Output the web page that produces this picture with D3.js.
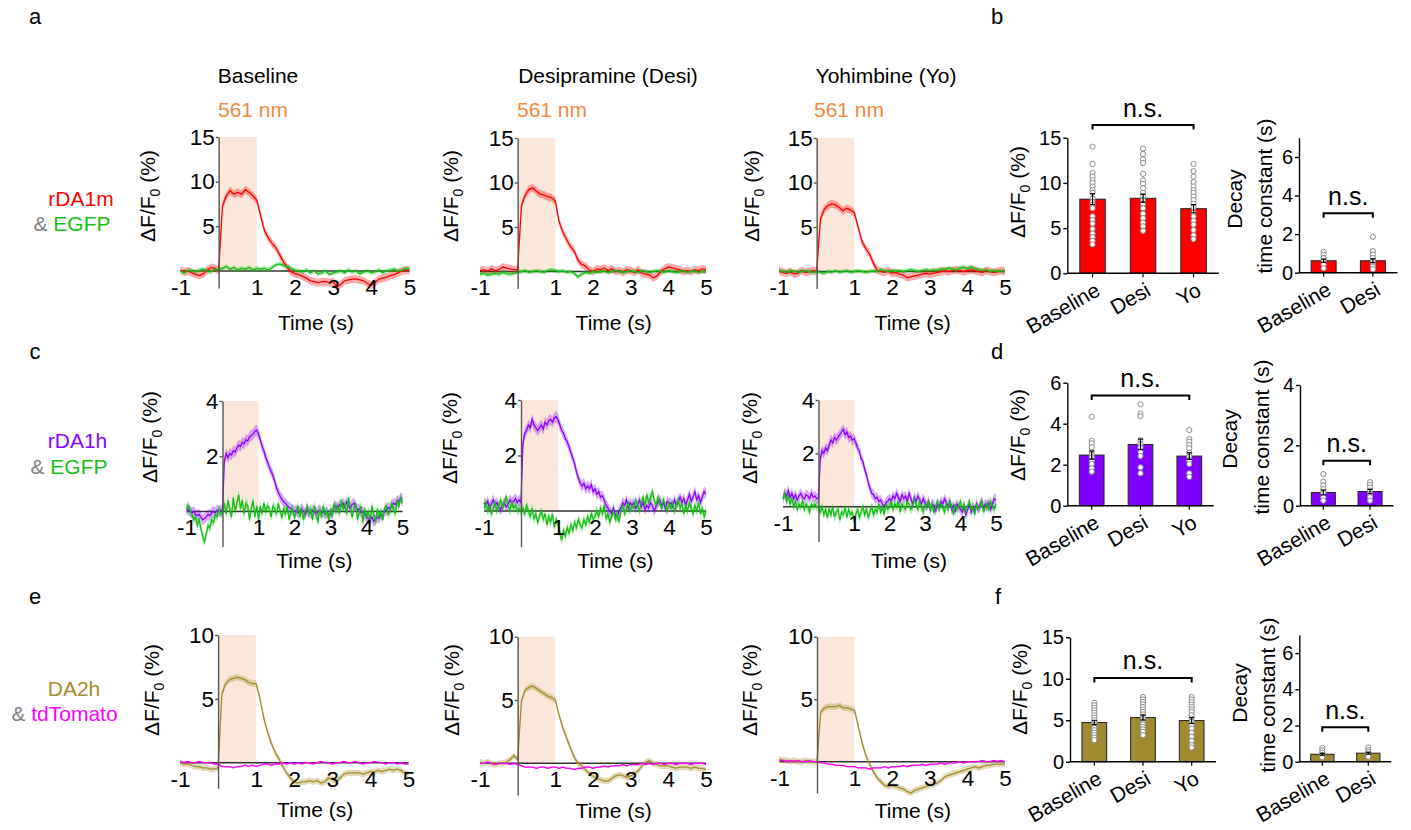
<!DOCTYPE html>
<html>
<head>
<meta charset="utf-8">
<script src="https://cdn.jsdelivr.net/npm/d3@7"></script>
<style>
  body { margin: 0; background: #fff; }
  svg text { font-family: Arial, "Liberation Sans", Helvetica, sans-serif; fill: #000; }
</style>
</head>
<body>
<svg id="fig" width="1411" height="830"></svg>
<script>
// ---------- data ----------
// sampling grids (s)
const T10 = d3.range(-10, 51).map(i => i / 10);   // 0.1 s
const T20 = d3.range(-20, 101).map(i => i / 20);  // 0.05 s
const LIGHT_ON = [0, 1];                           // 561 nm pulse
const X_TICKS = [-1, 1, 2, 3, 4, 5];

// row a: rDA1m & EGFP, mean dF/F0 (%)
const rDA1m_base = [0.1, -0.1, 0.0, -0.2, -0.4, -0.5, -0.3, 0.1, 0.4, 0.3,
  0.0,
  7.3, 8.4, 9.0, 8.6, 8.8, 8.6, 9.1, 8.8, 8.4, 7.9,
  6.2, 4.5, 3.7, 3.1, 2.6, 1.8, 1.0, 0.4, -0.1, -0.3,
  -0.4, -0.6, -0.8, -1.1, -1.2, -1.3, -1.2, -1.2, -1.3, -1.2,
  -1.8, -1.5, -1.1, -1.0, -0.9, -0.9, -1.0, -1.1, -1.4, -1.6,
  -1.3, -0.9, -0.8, -0.7, -0.5, -0.4, -0.2, 0.0, 0.1, 0.1];
const egfpA_base = [0.0, -0.2, 0.1, 0.0, -0.1, 0.1, 0.2, 0.0, -0.1, 0.2,
  0.1,
  0.3, 0.5, 0.2, 0.4, 0.1, 0.3, 0.2, 0.4, 0.1, 0.3,
  0.2, 0.3, 0.1, 0.4, 0.7, 0.8, 0.6, 0.5, 0.3, 0.1,
  0.0, -0.1, 0.1, -0.2, 0.0, -0.3, -0.2, 0.0, -0.4, -0.2,
  -0.1, 0.0, -0.2, 0.1, -0.1, 0.0, -0.3, -0.1, 0.0, -0.2,
  -0.1, 0.1, -0.2, 0.0, 0.1, 0.2, 0.0, 0.1, 0.3, 0.2];
const rDA1m_desi = [0.1, 0.2, 0.0, 0.3, 0.1, 0.2, 0.5, 0.4, 0.3, 0.2,
  0.2,
  7.4, 8.6, 9.2, 9.4, 9.0, 8.7, 8.6, 8.4, 8.3, 7.9,
  5.6, 4.4, 3.6, 2.8, 2.3, 1.3, 0.8, 0.6, 0.2, 0.0,
  0.3, 0.2, 0.4, 0.1, 0.3, 0.0, 0.1, -0.1, 0.2, 0.1,
  -0.1, 0.2, -0.2, -0.3, -0.4, -0.7, -0.5, 0.0, 0.3, 0.5,
  0.4, 0.3, 0.2, 0.0, 0.1, 0.0, 0.2, 0.1, 0.3, 0.2];
const egfpA_desi = [-0.3, -0.2, -0.4, -0.3, -0.2, -0.3, -0.1, -0.2, -0.3, -0.2,
  -0.1,
  0.0, 0.1, -0.1, 0.0, 0.1, 0.0, -0.1, 0.1, 0.2, 0.1,
  0.0, 0.1, -0.1, 0.0, -0.2, -0.6, -0.3, -0.1, -0.2, 0.0,
  -0.1, 0.0, 0.1, -0.1, 0.0, 0.1, 0.0, -0.1, 0.0, 0.1,
  0.0, -0.1, 0.1, 0.0, -0.1, 0.0, 0.1, 0.0, -0.1, 0.1,
  0.0, -0.1, 0.0, 0.1, -0.1, 0.0, 0.1, -0.1, 0.0, 0.0];
const rDA1m_yo = [0.1, -0.1, -0.2, 0.0, -0.3, -0.2, 0.1, -0.1, 0.0, 0.1,
  0.0,
  5.9, 7.0, 7.4, 7.6, 7.5, 7.2, 6.8, 7.1, 6.9, 6.6,
  5.0, 3.4, 2.6, 2.0, 1.0, 0.2, 0.0, -0.1, 0.1, -0.2,
  -0.1, -0.3, -0.4, -0.7, -0.6, -0.5, -0.4, -0.3, -0.2, -0.3,
  -0.2, -0.1, 0.0, 0.1, 0.0, 0.1, 0.2, 0.1, 0.0, 0.1,
  0.2, 0.1, 0.0, -0.1, 0.1, 0.0, -0.1, 0.0, 0.1, 0.0];
const egfpA_yo = [0.1, 0.0, -0.1, 0.1, 0.0, -0.1, 0.0, 0.1, 0.0, -0.1,
  0.0,
  -0.1, -0.2, 0.0, -0.1, 0.1, -0.1, 0.0, 0.1, -0.1, 0.0,
  0.1, 0.0, -0.1, 0.0, 0.1, 0.0, 0.2, 0.1, 0.0, 0.1,
  0.0, 0.1, 0.0, 0.1, 0.2, 0.1, 0.0, 0.1, 0.2, 0.1,
  0.2, 0.1, 0.3, 0.2, 0.4, 0.3, 0.2, 0.4, 0.5, 0.3,
  0.5, 0.3, 0.2, 0.1, 0.2, 0.0, 0.1, 0.0, 0.1, 0.0];

// row c: rDA1h & EGFP, 0.05 s sampling
const rDA1h_base = [0.1, 0.05, 0.0, -0.05, 0.0, -0.1, -0.15, -0.1, -0.2, -0.3, -0.25, -0.2, -0.1, -0.15, -0.05, 0.0, -0.05, 0.05, 0.0, 0.05,
  0.0,
  1.8, 2.1, 1.95, 2.1, 2.05, 2.2, 2.15, 2.3, 2.4, 2.35, 2.5, 2.45, 2.6, 2.55, 2.7, 2.75, 2.8, 2.9, 2.95, 2.8,
  2.6, 2.35, 2.2, 1.95, 1.8, 1.6, 1.45, 1.3, 1.1, 0.85, 0.7, 0.55, 0.45, 0.35, 0.3, 0.2, 0.15, 0.1, 0.05, 0.0,
  0.05, -0.05, 0.0, 0.1, 0.0, -0.1, 0.05, 0.0, -0.05, 0.05, 0.0, -0.1, 0.0, 0.05, -0.05, 0.0, -0.1, 0.0, -0.15, -0.1,
  0.0, 0.15, 0.2, 0.1, 0.25, 0.2, 0.3, 0.15, 0.35, 0.2, 0.1, 0.25, 0.3, 0.15, 0.05, 0.1, -0.05, 0.0, -0.1, -0.2,
  -0.25, -0.3, -0.2, -0.35, -0.3, -0.2, -0.25, -0.1, -0.15, 0.0, 0.05, 0.15, 0.1, 0.2, 0.3, 0.25, 0.4, 0.35, 0.5, 0.45];
const egfpC_base = [0.1, 0.2, 0.05, -0.1, -0.3, -0.2, -0.5, -0.3, -0.6, -0.9, -1.1, -0.8, -0.5, -0.6, -0.3, -0.4, -0.1, -0.2, 0.1, -0.1,
  0.0,
  0.3, -0.1, 0.4, 0.1, -0.2, 0.5, 0.0, 0.3, 0.6, 0.1, 0.4, -0.1, 0.3, 0.2, -0.3, 0.1, 0.4, -0.2, 0.2, -0.3,
  0.2, -0.1, 0.3, 0.0, 0.2, 0.1, -0.2, 0.2, 0.1, -0.1, 0.3, 0.0, -0.2, 0.1, -0.1, 0.2, -0.3, 0.0, 0.1, -0.2,
  0.0, 0.2, -0.2, 0.1, -0.3, 0.0, 0.2, -0.1, 0.1, -0.3, 0.2, 0.0, -0.4, 0.1, -0.2, 0.2, -0.1, 0.0, -0.3, 0.1,
  -0.2, 0.3, 0.0, 0.2, -0.1, 0.4, 0.1, 0.3, -0.1, 0.5, 0.2, -0.2, 0.1, 0.3, -0.3, 0.0, 0.2, -0.4, 0.1, -0.2,
  0.0, -0.3, 0.2, -0.1, -0.4, 0.1, -0.2, 0.0, -0.3, 0.1, 0.2, -0.1, 0.0, 0.3, 0.1, -0.1, 0.4, 0.2, 0.5, 0.3];
const rDA1h_desi = [0.3, 0.2, 0.35, 0.1, 0.25, 0.4, 0.2, 0.3, 0.15, 0.05, 0.2, 0.3, 0.15, 0.25, 0.4, 0.3, 0.35, 0.45, 0.3, 0.4,
  0.3,
  2.4, 2.8, 2.9, 3.1, 3.0, 3.3, 3.1, 3.0, 2.9, 3.0, 3.1, 2.95, 3.2, 3.1, 3.25, 3.3, 3.2, 3.35, 3.4, 3.3,
  3.1, 2.9, 2.8, 2.6, 2.5, 2.3, 2.1, 1.9, 1.7, 1.4, 1.2, 1.0, 0.9, 1.0, 0.8, 0.9, 0.8, 0.95, 0.7, 0.8,
  0.6, 0.7, 0.5, 0.55, 0.4, 0.2, 0.1, 0.0, -0.1, 0.1, -0.15, -0.2, 0.0, 0.1, 0.3, 0.2, 0.4, 0.1, 0.3, 0.2,
  0.3, 0.1, 0.2, 0.4, 0.15, 0.3, 0.05, 0.2, 0.1, 0.3, 0.2, 0.0, 0.15, 0.3, 0.4, 0.2, 0.3, 0.1, 0.35, 0.25,
  0.3, 0.15, 0.4, 0.2, 0.35, 0.5, 0.3, 0.45, 0.2, 0.4, 0.6, 0.35, 0.5, 0.7, 0.4, 0.55, 0.3, 0.5, 0.7, 0.6];
const egfpC_desi = [0.1, 0.3, 0.0, 0.2, -0.1, 0.1, 0.3, 0.0, 0.2, 0.4, 0.1, 0.3, 0.5, 0.2, 0.0, 0.3, 0.1, 0.2, 0.0, 0.1,
  0.0,
  0.1, -0.1, 0.2, 0.0, -0.2, 0.1, -0.3, -0.1, -0.4, -0.2, 0.0, -0.3, -0.1, -0.5, -0.2, -0.4, -0.1, -0.6, -0.3, -0.5,
  -0.8, -1.05, -0.7, -0.9, -0.6, -0.8, -0.5, -0.7, -0.4, -0.6, -0.3, -0.5, -0.6, -0.3, -0.5, -0.2, -0.4, -0.1, -0.3, -0.2,
  0.0, -0.2, 0.1, -0.1, 0.2, -0.3, -0.1, -0.4, -0.2, 0.0, -0.3, -0.1, -0.4, 0.0, 0.2, -0.1, 0.1, 0.3, 0.0, 0.2,
  0.1, 0.4, 0.2, 0.0, 0.3, 0.5, 0.2, 0.6, 0.3, 0.5, 0.7, 0.4, 0.2, 0.5, 0.3, 0.1, 0.4, 0.2, 0.0, 0.3,
  0.1, 0.3, 0.0, 0.2, 0.4, 0.1, 0.3, -0.1, 0.2, 0.0, 0.3, 0.1, -0.1, 0.2, 0.0, 0.3, -0.1, 0.1, -0.2, 0.0];
const rDA1h_yo = [0.3, 0.5, 0.4, 0.6, 0.35, 0.5, 0.3, 0.45, 0.25, 0.4, 0.5, 0.35, 0.3, 0.45, 0.4, 0.3, 0.5, 0.35, 0.4, 0.3,
  0.3,
  1.8, 2.1, 2.0, 2.2, 2.1, 2.3, 2.5, 2.4, 2.6, 2.5, 2.6, 2.7, 2.8, 2.9, 2.7, 2.8, 2.6, 2.65, 2.5, 2.55,
  2.4, 2.2, 2.1, 1.8, 1.7, 1.4, 1.2, 0.9, 0.7, 0.5, 0.45, 0.3, 0.35, 0.2, 0.25, 0.1, 0.0, 0.15, 0.2, 0.3,
  0.2, 0.4, 0.3, 0.5, 0.35, 0.2, 0.45, 0.3, 0.4, 0.2, 0.5, 0.3, 0.1, 0.35, 0.2, 0.4, 0.25, 0.1, 0.3, 0.15,
  0.0, 0.2, -0.1, 0.1, 0.05, -0.15, 0.1, 0.0, 0.2, 0.1, 0.3, 0.15, 0.0, 0.2, -0.1, 0.05, -0.2, 0.1, 0.0, -0.1,
  -0.2, 0.0, -0.3, -0.1, 0.1, -0.2, 0.0, -0.15, 0.1, -0.1, 0.05, 0.2, -0.05, 0.1, 0.0, 0.15, -0.1, 0.1, 0.3, 0.25];
const egfpC_yo = [0.3, 0.5, 0.2, 0.4, 0.1, 0.3, 0.0, 0.2, -0.1, 0.1, 0.0, 0.2, -0.1, 0.1, 0.0, -0.2, 0.1, 0.0, 0.1, 0.0,
  0.0,
  -0.2, 0.0, -0.3, -0.1, -0.4, -0.1, -0.3, 0.0, -0.4, -0.2, -0.1, -0.5, -0.2, -0.3, 0.0, -0.4, -0.1, -0.3, -0.2, -0.5,
  -0.3, -0.1, -0.4, -0.2, 0.0, -0.3, -0.1, -0.4, -0.2, 0.0, -0.3, -0.1, -0.2, 0.1, -0.2, 0.0, -0.3, 0.1, -0.1, 0.0,
  0.2, -0.1, 0.1, 0.0, 0.2, -0.2, 0.1, 0.0, -0.1, 0.2, 0.1, -0.1, 0.0, 0.3, 0.1, -0.1, 0.2, 0.0, -0.2, 0.1,
  0.0, 0.2, -0.1, 0.1, -0.2, 0.0, 0.2, -0.1, 0.1, 0.0, -0.2, 0.1, -0.1, 0.2, 0.0, -0.3, 0.1, -0.1, 0.0, 0.2,
  -0.1, 0.1, -0.2, 0.0, 0.2, -0.1, 0.0, -0.3, 0.1, -0.1, 0.0, 0.2, -0.2, 0.0, 0.1, -0.1, 0.2, 0.0, -0.1, 0.1];

// row e: DA2h & tdTomato, 0.1 s sampling
const da2h_base = [0.0, -0.1, -0.1, -0.2, -0.3, -0.3, -0.4, -0.4, -0.5, -0.5,
  -0.4,
  5.4, 6.2, 6.5, 6.6, 6.7, 6.6, 6.5, 6.3, 6.2, 6.2,
  5.0, 3.5, 2.4, 1.5, 0.8, 0.3, -0.3, -0.8, -1.2, -1.5,
  -1.6, -1.5, -1.5, -1.4, -1.5, -1.4, -1.6, -1.5, -1.2, -1.3,
  -1.5, -1.2, -0.9, -0.8, -0.8, -0.8, -0.8, -0.9, -0.8, -0.7,
  -0.7, -0.6, -0.7, -0.6, -0.5, -0.6, -0.5, -0.6, -0.8, -0.9];
const tdt_base = [0.1, 0.0, 0.1, 0.0, 0.0, 0.1, 0.0, 0.0, 0.0, -0.1,
  -0.1,
  -0.3, -0.3, -0.3, -0.4, -0.3, -0.3, -0.2, -0.3, -0.2, -0.3,
  -0.2, -0.1, -0.1, -0.2, -0.1, -0.1, 0.0, -0.1, 0.0, -0.1,
  0.0, -0.1, 0.0, 0.0, -0.1, 0.0, 0.1, 0.0, 0.0, -0.1,
  0.0, 0.0, 0.1, 0.0, 0.0, 0.1, 0.0, -0.1, 0.0, 0.0,
  0.1, 0.0, 0.0, -0.1, 0.0, 0.0, -0.1, 0.0, -0.1, -0.1];
const da2h_desi = [0.1, 0.0, 0.1, 0.0, -0.1, 0.0, 0.0, 0.1, 0.3, 0.6,
  0.3,
  4.9, 5.8, 6.0, 6.1, 5.9, 5.7, 5.5, 5.3, 5.2, 5.0,
  3.8, 2.8, 2.0, 1.2, 0.5, 0.0, -0.2, -0.5, -0.8, -1.0,
  -1.2, -1.3, -1.4, -1.4, -1.2, -1.0, -0.9, -1.0, -1.1, -1.0,
  -0.8, -0.6, -0.2, 0.1, 0.2, 0.0, -0.1, -0.2, -0.2, -0.2,
  -0.3, -0.4, -0.3, -0.3, -0.3, -0.4, -0.3, -0.4, -0.4, -0.5];
const tdt_desi = [0.0, 0.0, 0.1, 0.0, -0.1, 0.0, 0.0, 0.0, -0.1, 0.0,
  -0.1,
  -0.2, -0.3, -0.3, -0.3, -0.4, -0.3, -0.3, -0.4, -0.3, -0.3,
  -0.4, -0.3, -0.4, -0.4, -0.5, -0.4, -0.4, -0.3, -0.3, -0.4,
  -0.3, -0.3, -0.2, -0.3, -0.2, -0.2, -0.2, -0.1, -0.2, -0.1,
  -0.1, -0.1, 0.0, -0.1, 0.0, -0.1, 0.0, 0.0, -0.1, 0.0,
  0.0, -0.1, 0.0, 0.0, 0.0, -0.1, 0.0, 0.0, 0.0, -0.1];
const da2h_yo = [0.2, 0.1, 0.1, 0.0, 0.1, 0.0, 0.0, 0.1, 0.0, 0.0,
  0.0,
  4.0, 4.3, 4.4, 4.4, 4.4, 4.5, 4.3, 4.3, 4.2, 4.1,
  2.8, 1.5, 0.5, -0.2, -0.8, -1.3, -1.6, -1.9, -2.0, -1.9,
  -2.0, -2.1, -2.2, -2.4, -2.5, -2.3, -2.2, -2.1, -2.0, -1.9,
  -1.8, -1.7, -1.5, -1.2, -1.1, -1.0, -0.9, -0.8, -0.7, -0.6,
  -0.5, -0.4, -0.5, -0.4, -0.3, -0.3, -0.2, -0.2, -0.2, -0.2];
const tdt_yo = [0.1, 0.1, 0.0, 0.1, 0.0, 0.1, 0.0, 0.0, 0.1, 0.0,
  0.0,
  -0.1, -0.1, -0.2, -0.2, -0.3, -0.3, -0.3, -0.4, -0.4, -0.4,
  -0.5, -0.5, -0.5, -0.6, -0.5, -0.5, -0.5, -0.4, -0.5, -0.4,
  -0.4, -0.4, -0.3, -0.4, -0.3, -0.3, -0.3, -0.2, -0.3, -0.2,
  -0.2, -0.2, -0.1, -0.2, -0.1, -0.1, -0.1, 0.0, -0.1, 0.0,
  0.0, 0.0, 0.0, 0.1, 0.0, 0.0, 0.1, 0.0, 0.1, 0.0];

// SEM half-widths of the shaded bands
const SEM_RDA1M = 0.45, SEM_EGFP_A = 0.25;
const SEM_RDA1H = 0.2, SEM_EGFP_C = 0.18;
const SEM_DA2H = 0.25, SEM_TDT = 0.06;

// bar charts
const peakCats = ['Baseline', 'Desi', 'Yo'];
const decayCats = ['Baseline', 'Desi'];

const bPeakMean = [8.2, 8.3, 7.15];
const bPeakSem = [0.6, 0.45, 0.45];
const bPeakDots = [
  [14.0, 12.1, 11.1, 10.7, 10.3, 10.0, 9.6, 9.2, 8.9, 8.3, 7.9, 7.6, 7.2, 6.3, 5.9, 5.5, 4.9, 4.4, 4.0, 3.6, 3.2],
  [13.8, 13.2, 12.6, 12.2, 11.0, 10.3, 9.9, 9.4, 8.9, 8.5, 8.1, 7.7, 7.2, 6.6, 6.1, 5.6, 5.2, 4.7],
  [12.1, 11.3, 10.7, 10.1, 9.6, 9.2, 8.9, 8.5, 8.1, 7.7, 7.3, 6.7, 6.3, 5.8, 5.4, 4.8, 4.2, 3.8]];
const bDecayMean = [0.62, 0.62];
const bDecaySem = [0.08, 0.1];
const bDecayDots = [
  [1.08, 0.94, 0.76, 0.58, 0.41, 0.23],
  [1.86, 1.12, 0.94, 0.76, 0.58, 0.44, 0.32, 0.18]];

const dPeakMean = [2.47, 2.99, 2.42];
const dPeakSem = [0.2, 0.26, 0.16];
const dPeakDots = [
  [4.34, 3.17, 3.04, 2.85, 2.63, 2.47, 2.36, 2.2, 2.03, 1.82, 1.66],
  [4.94, 4.5, 4.37, 3.2, 3.0, 2.85, 2.63, 2.42, 1.87, 1.58],
  [3.69, 3.25, 3.12, 2.96, 2.8, 2.59, 2.39, 2.2, 2.03, 1.58, 1.41]];
const dDecayMean = [0.44, 0.47];
const dDecaySem = [0.08, 0.07];
const dDecayDots = [
  [1.05, 0.8, 0.67, 0.55, 0.41, 0.28, 0.17],
  [0.78, 0.69, 0.6, 0.5, 0.39, 0.28, 0.17]];

const fPeakMean = [4.72, 5.32, 4.96];
const fPeakSem = [0.25, 0.3, 0.35];
const fPeakDots = [
  [7.1, 6.8, 6.5, 6.2, 5.9, 5.6, 5.3, 5.0, 4.7, 4.4, 4.1, 3.8, 3.5, 3.2, 2.9, 2.6],
  [7.8, 7.5, 7.2, 6.9, 6.6, 6.3, 6.0, 5.7, 5.4, 5.1, 4.8, 4.5, 4.2, 3.9, 3.6, 3.2],
  [7.8, 7.5, 7.2, 6.9, 6.6, 6.3, 6.0, 5.6, 5.2, 4.8, 4.4, 4.0, 3.5, 3.0, 2.5, 2.0, 1.7]];
const fDecayMean = [0.41, 0.47];
const fDecaySem = [0.05, 0.05];
const fDecayDots = [
  [0.75, 0.62, 0.5, 0.37, 0.24],
  [0.79, 0.65, 0.54, 0.41, 0.28]];

// ---------- styles ----------
const C_RED = '#ff0000', C_GREEN = '#14bf14', C_PURPLE = '#8a00ff';
const C_OLIVE = '#a38c2e', C_MAGENTA = '#ff00ff', C_ORANGE = '#ef8a3e';
const C_SHADE = '#fbe7da', C_AMP = '#808080';
const BAR_RED = '#ff0000', BAR_PURPLE = '#7f00ff', BAR_OLIVE = '#a08a30';
const FS = 21;          // labels
const FS_TRACE_TICK = 22.5;
const FS_BAR_TICK = 20;
const fmt = d => String(d);

const svg = d3.select('#fig');

function dfLabel(g, x, y) {
  const t = g.append('text')
    .attr('transform', `translate(${x},${y}) rotate(-90)`)
    .attr('text-anchor', 'middle')
    .style('font-size', FS + 'px');
  t.append('tspan').text('ΔF/F');
  t.append('tspan').attr('dy', 5).style('font-size', '14px').text('0');
  t.append('tspan').attr('dy', -5).text(' (%)');
}

// ---------- trace panels ----------
function drawTrace(p) {
  const g = svg.append('g');
  const x = d3.scaleLinear().domain([-1, 5]).range([p.x0, p.x1]);
  const y = d3.scaleLinear().domain([0, p.yMax]).range([p.yZero, p.yTop]);

  g.append('rect')
    .attr('x', x(LIGHT_ON[0]))
    .attr('y', y(p.yMax))
    .attr('width', x(LIGHT_ON[1]) - x(LIGHT_ON[0]))
    .attr('height', y(0) - y(p.yMax))
    .attr('fill', C_SHADE);

  g.append('line')
    .attr('x1', x(-1)).attr('x2', x(5))
    .attr('y1', y(0)).attr('y2', y(0))
    .attr('stroke', '#333').attr('stroke-width', 1.4);

  // bands first, then lines
  p.series.forEach(s => {
    const pts = s.t.map((t, i) => [t, s.v[i]]);
    g.append('path')
      .datum(pts)
      .attr('fill', s.color)
      .attr('fill-opacity', 0.33)
      .attr('d', d3.area().x(d => x(d[0])).y0(d => y(d[1] - s.sem)).y1(d => y(d[1] + s.sem)));
  });
  p.series.forEach(s => {
    const pts = s.t.map((t, i) => [t, s.v[i]]);
    g.append('path')
      .datum(pts)
      .attr('fill', 'none')
      .attr('stroke', s.color)
      .attr('stroke-width', 1.3)
      .attr('d', d3.line().x(d => x(d[0])).y(d => y(d[1])));
  });

  const yAx = d3.scaleLinear().domain([p.yMin, p.yMax]).range([y(p.yMin), y(p.yMax)]);
  const ya = g.append('g')
    .attr('transform', `translate(${x(0)},0)`)
    .call(d3.axisLeft(yAx).tickValues(p.yTicks).tickFormat(fmt).tickSize(3).tickSizeOuter(0).tickPadding(1));
  ya.selectAll('path, line').attr('stroke', '#555').attr('stroke-width', 1.4);
  ya.selectAll('text').style('font-size', FS_TRACE_TICK + 'px').attr('fill', '#000');

  const xa = g.append('g')
    .attr('transform', `translate(0,${y(0)})`)
    .call(d3.axisBottom(x).tickValues(X_TICKS).tickSize(0).tickPadding(8).tickFormat(fmt));
  xa.select('.domain').remove();
  xa.selectAll('text').style('font-size', FS_TRACE_TICK + 'px').attr('fill', '#000');

  dfLabel(g, x(0) + p.lx, p.ly);

  g.append('text')
    .attr('x', x(2.55)).attr('y', p.timeY)
    .attr('text-anchor', 'middle')
    .style('font-size', FS + 'px')
    .text('Time (s)');
}

const rowA = (a, b) => [
  { t: T10, v: a, color: C_RED, sem: SEM_RDA1M },
  { t: T10, v: b, color: C_GREEN, sem: SEM_EGFP_A }];
const rowC = (a, b) => [
  { t: T20, v: a, color: C_PURPLE, sem: SEM_RDA1H },
  { t: T20, v: b, color: C_GREEN, sem: SEM_EGFP_C }];
const rowE = (a, b) => [
  { t: T10, v: a, color: C_OLIVE, sem: SEM_DA2H },
  { t: T10, v: b, color: C_MAGENTA, sem: SEM_TDT }];

const tracePanels = [
  { x0: 180.5, x1: 409.5, yTop: 137, yZero: 271, yMax: 15, yMin: -1.9, yTicks: [5, 10, 15], lx: -64, ly: 196, timeY: 329.5, series: rowA(rDA1m_base, egfpA_base) },
  { x0: 480, x1: 706, yTop: 138, yZero: 271.5, yMax: 15, yMin: -1.9, yTicks: [5, 10, 15], lx: -60, ly: 196, timeY: 329.5, series: rowA(rDA1m_desi, egfpA_desi) },
  { x0: 779, x1: 1005, yTop: 138, yZero: 271.5, yMax: 15, yMin: -1.9, yTicks: [5, 10, 15], lx: -58, ly: 196, timeY: 329.5, series: rowA(rDA1m_yo, egfpA_yo) },

  { x0: 186.5, x1: 402.5, yTop: 401, yZero: 511.5, yMax: 4, yMin: -1.27, yTicks: [2, 4], lx: -66, ly: 437, timeY: 568, series: rowC(rDA1h_base, egfpC_base) },
  { x0: 484, x1: 706, yTop: 400, yZero: 511, yMax: 4, yMin: -1.29, yTicks: [2, 4], lx: -64, ly: 438, timeY: 568, series: rowC(rDA1h_desi, egfpC_desi) },
  { x0: 783, x1: 996, yTop: 400, yZero: 506.7, yMax: 4, yMin: -1.3, yTicks: [2, 4], lx: -62, ly: 438, timeY: 568, series: rowC(rDA1h_yo, egfpC_yo) },

  { x0: 180, x1: 408.5, yTop: 635, yZero: 762.7, yMax: 10, yMin: -2, yTicks: [5, 10], lx: -59, ly: 690, timeY: 816.5, series: rowE(da2h_base, tdt_base) },
  { x0: 480, x1: 706, yTop: 636.7, yZero: 763.3, yMax: 10, yMin: -2.5, yTicks: [5, 10], lx: -59, ly: 690, timeY: 818, series: rowE(da2h_desi, tdt_desi) },
  { x0: 779.4, x1: 1005, yTop: 636.7, yZero: 761.7, yMax: 10, yMin: -2.5, yTicks: [5, 10], lx: -60, ly: 690, timeY: 818, series: rowE(da2h_yo, tdt_yo) }
];
tracePanels.forEach(drawTrace);

// ---------- bar panels ----------
function drawBars(p) {
  const g = svg.append('g');
  const x = d3.scalePoint().domain(p.cats).range([p.axisX, p.axisEnd]).padding(0.5);
  const y = d3.scaleLinear().domain([0, p.yMax]).range([p.yZero, p.yTop]);
  const bw = p.barW;

  g.selectAll('rect.bar').data(p.cats).join('rect')
    .attr('class', 'bar')
    .attr('x', c => x(c) - bw / 2)
    .attr('y', (c, i) => y(p.means[i]))
    .attr('width', bw)
    .attr('height', (c, i) => y(0) - y(p.means[i]))
    .attr('fill', p.color)
    .attr('stroke', '#222')
    .attr('stroke-width', 1);

  p.cats.forEach((c, i) => {
    g.selectAll(null).data(p.dots[i]).join('circle')
      .attr('cx', x(c))
      .attr('cy', d => y(d))
      .attr('r', 2.6)
      .attr('fill', '#fff')
      .attr('stroke', '#8c8c8c')
      .attr('stroke-width', 1);
    const lo = y(p.means[i] - p.sems[i]), hi = y(p.means[i] + p.sems[i]);
    g.append('line').attr('x1', x(c)).attr('x2', x(c)).attr('y1', lo).attr('y2', hi)
      .attr('stroke', '#000').attr('stroke-width', 1.2);
    [lo, hi].forEach(yy => g.append('line')
      .attr('x1', x(c) - 2.5).attr('x2', x(c) + 2.5).attr('y1', yy).attr('y2', yy)
      .attr('stroke', '#000').attr('stroke-width', 1.2));
  });

  // x axis with short ticks
  g.append('line')
    .attr('x1', p.axisX).attr('x2', p.axisEnd)
    .attr('y1', y(0)).attr('y2', y(0))
    .attr('stroke', '#000').attr('stroke-width', 1.4);
  p.cats.forEach(c => g.append('line')
    .attr('x1', x(c)).attr('x2', x(c)).attr('y1', y(0)).attr('y2', y(0) + 4)
    .attr('stroke', '#000').attr('stroke-width', 1.2));
  g.selectAll('text.cat').data(p.cats).join('text')
    .attr('class', 'cat')
    .attr('transform', c => `translate(${x(c) + 9},${y(0) + 21}) rotate(-30)`)
    .attr('text-anchor', 'end')
    .style('font-size', FS + 'px')
    .text(c => c);

  const ya = g.append('g')
    .attr('transform', `translate(${p.axisX},0)`)
    .call(d3.axisLeft(y).tickValues(p.yTicks).tickFormat(fmt).tickSize(4).tickSizeOuter(0).tickPadding(2));
  ya.selectAll('path, line').attr('stroke', '#000').attr('stroke-width', 1.4);
  ya.selectAll('text').style('font-size', FS_BAR_TICK + 'px').attr('fill', '#000');

  // significance bracket
  const bx0 = x(p.cats[0]), bx1 = x(p.cats[p.cats.length - 1]), by = y(p.bracket);
  g.append('path')
    .attr('d', `M${bx0},${by + 4.5}V${by}H${bx1}V${by + 4.5}`)
    .attr('fill', 'none').attr('stroke', '#000').attr('stroke-width', 2);
  g.append('text')
    .attr('x', (bx0 + bx1) / 2).attr('y', by - 8.5)
    .attr('text-anchor', 'middle')
    .style('font-size', '25px')
    .text('n.s.');

  if (p.kind === 'peak') {
    dfLabel(g, p.lx, p.ly);
  } else {
    g.append('text')
      .attr('transform', `translate(${p.lx},${p.ly}) rotate(-90)`)
      .attr('text-anchor', 'middle').style('font-size', FS + 'px').text('Decay');
    g.append('text')
      .attr('transform', `translate(${p.lx2},${p.ly2}) rotate(-90)`)
      .attr('text-anchor', 'middle').style('font-size', FS + 'px').text('time constant (s)');
  }
}

const barPanels = [
  { kind: 'peak', cats: peakCats, means: bPeakMean, sems: bPeakSem, dots: bPeakDots, color: BAR_RED,
    axisX: 1067.3, axisEnd: 1218.8, yTop: 137.7, yZero: 273.3, yMax: 15, yTicks: [0, 5, 10, 15], barW: 25.5, bracket: 16.4, lx: 1025, ly: 192 },
  { kind: 'decay', cats: decayCats, means: bDecayMean, sems: bDecaySem, dots: bDecayDots, color: BAR_RED,
    axisX: 1299, axisEnd: 1397.5, yTop: 137.7, yZero: 272.7, yMax: 7, yTicks: [0, 2, 4, 6], barW: 25, bracket: 3.08, lx: 1242, ly: 199, lx2: 1272, ly2: 196 },
  { kind: 'peak', cats: peakCats, means: dPeakMean, sems: dPeakSem, dots: dPeakDots, color: BAR_PURPLE,
    axisX: 1067.3, axisEnd: 1213.7, yTop: 382.7, yZero: 505.7, yMax: 6, yTicks: [0, 2, 4, 6], barW: 24.7, bracket: 5.37, lx: 1025, ly: 435 },
  { kind: 'decay', cats: decayCats, means: dDecayMean, sems: dDecaySem, dots: dDecayDots, color: BAR_PURPLE,
    axisX: 1300, axisEnd: 1393.4, yTop: 385, yZero: 505.7, yMax: 4, yTicks: [0, 2, 4], barW: 24, bracket: 1.49, lx: 1237, ly: 439, lx2: 1269, ly2: 437 },
  { kind: 'peak', cats: peakCats, means: fPeakMean, sems: fPeakSem, dots: fPeakDots, color: BAR_OLIVE,
    axisX: 1070, axisEnd: 1216, yTop: 637.3, yZero: 761.7, yMax: 15, yTicks: [0, 5, 10, 15], barW: 24.7, bracket: 10.1, lx: 1027, ly: 689 },
  { kind: 'decay', cats: decayCats, means: fDecayMean, sems: fDecaySem, dots: fDecayDots, color: BAR_OLIVE,
    axisX: 1299.3, axisEnd: 1391.3, yTop: 635, yZero: 761.7, yMax: 7, yTicks: [0, 2, 4, 6], barW: 23.3, bracket: 1.9, lx: 1247, ly: 693, lx2: 1275, ly2: 695 }
];
barPanels.forEach(drawBars);

// ---------- headers, row labels, panel letters ----------
const columnTitles = ['Baseline', 'Desipramine (Desi)', 'Yohimbine (Yo)'];
const titleX = [258, 608, 886];
const nmX = [253, 552, 849];
columnTitles.forEach((t, i) => {
  svg.append('text').attr('x', titleX[i]).attr('y', 82.5).attr('text-anchor', 'middle')
    .style('font-size', FS + 'px').text(t);
  svg.append('text').attr('x', nmX[i]).attr('y', 116.5).attr('text-anchor', 'middle')
    .style('font-size', FS + 'px').style('fill', C_ORANGE).text('561 nm');
});

const rowLabels = [
  { sensor: 'rDA1m', sColor: C_RED, ctrl: 'EGFP', cColor: C_GREEN, sx: 81, sy: 205.5, cx: 72, cy: 230.5 },
  { sensor: 'rDA1h', sColor: C_PURPLE, ctrl: 'EGFP', cColor: C_GREEN, sx: 77.5, sy: 447.5, cx: 69, cy: 474 },
  { sensor: 'DA2h', sColor: C_OLIVE, ctrl: 'tdTomato', cColor: C_MAGENTA, sx: 74, sy: 696, cx: 64.5, cy: 721 }
];
rowLabels.forEach(r => {
  svg.append('text').attr('x', r.sx).attr('y', r.sy).attr('text-anchor', 'middle')
    .style('font-size', FS + 'px').style('fill', r.sColor).text(r.sensor);
  const t = svg.append('text').attr('x', r.cx).attr('y', r.cy).attr('text-anchor', 'middle')
    .style('font-size', FS + 'px');
  t.append('tspan').style('fill', C_AMP).text('& ');
  t.append('tspan').style('fill', r.cColor).text(r.ctrl);
});

const letters = [['a', 35, 24], ['b', 997, 24], ['c', 35, 359], ['d', 997, 359], ['e', 35, 604], ['f', 998, 604]];
letters.forEach(([l, x, y]) => svg.append('text').attr('x', x).attr('y', y).attr('text-anchor', 'middle')
  .style('font-size', '22px').text(l));
</script>
</body>
</html>
